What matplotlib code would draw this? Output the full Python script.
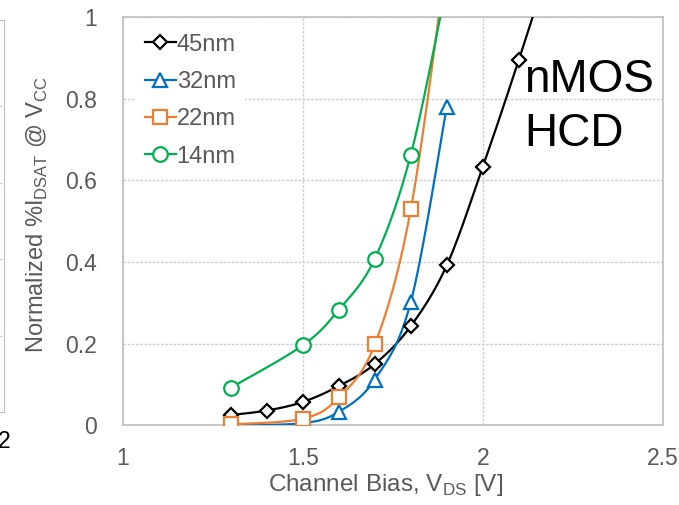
import numpy as np
import matplotlib
matplotlib.use("Agg")
from matplotlib import pyplot as plt

plt.rcParams['font.family'] = ['Liberation Sans', 'DejaVu Sans']

# channel bias sweep [V] and normalized IDSAT degradation per node
vds_45 = [1.3, 1.4, 1.5, 1.6, 1.7, 1.8, 1.9, 2.0, 2.1, 2.2]
idsat_45 = [0.025, 0.036, 0.057, 0.096, 0.150, 0.243, 0.392, 0.633, 0.895, 1.17]

vds_32 = [1.3, 1.5, 1.6, 1.7, 1.8, 1.9]
idsat_32 = [0.0, 0.005, 0.033, 0.112, 0.302, 0.780]

vds_22 = [1.3, 1.5, 1.6, 1.7, 1.8, 1.9]
idsat_22 = [0.002, 0.016, 0.068, 0.198, 0.529, 1.15]

vds_14 = [1.3, 1.5, 1.6, 1.7, 1.8, 1.9]
idsat_14 = [0.092, 0.196, 0.283, 0.408, 0.663, 1.08]

labels = ['45nm', '32nm', '22nm', '14nm']
colors = ['black', '#0070C0', '#ED7D31', '#00B050']
markers = ['D', '^', 's', 'o']
msizes = [7.6, 9.5, 9.5, 10.5]

x_ticks = [1, 1.5, 2, 2.5]
y_ticks = [0, 0.2, 0.4, 0.6, 0.8, 1]
tick_grey = '#595959'


def smooth(x, y, n=24):
    # excel-style smoothed line (catmull-rom as cubic bezier)
    p = np.column_stack([x, y]).astype(float)
    out = [p[0]]
    t = np.linspace(0, 1, n)[1:, None]
    for i in range(len(p) - 1):
        p0 = p[i - 1] if i > 0 else p[i]
        p3 = p[i + 2] if i + 2 < len(p) else p[i + 1]
        b0, b3 = p[i], p[i + 1]
        b1 = b0 + (b3 - p0) / 6
        b2 = b3 - (p3 - b0) / 6
        seg = ((1 - t) ** 3 * b0 + 3 * (1 - t) ** 2 * t * b1
               + 3 * (1 - t) * t ** 2 * b2 + t ** 3 * b3)
        out.extend(seg)
    out = np.array(out)
    return out[:, 0], out[:, 1]


fig = plt.figure(figsize=(6.79, 5.05), dpi=100)

# edge of the neighbouring panel
ax0 = fig.add_axes([-0.5, 0.184, 0.5059, 0.776])
ax0.set_xlim(0, 2)
ax0.set_ylim(0, 1)
ax0.set_xticks([2])
ax0.set_xticklabels(['2'])
ax0.set_yticks(np.arange(1, 5) * 0.195)
ax0.set_yticklabels([])
ax0.tick_params(length=0, labelsize=16.5, pad=13, colors='black')
ax0.grid(axis='y', color='#d0d0d0', linestyle=(0, (2, 1)), linewidth=1)
for s in ax0.spines.values():
    s.set_color('#bfbfbf')

ax = fig.add_axes([0.181, 0.158, 0.795, 0.808])

series = [(vds_45, idsat_45), (vds_32, idsat_32), (vds_22, idsat_22), (vds_14, idsat_14)]
for (xs, ys), lab, c, m, ms in zip(series, labels, colors, markers, msizes):
    sx, sy = smooth(xs, ys)
    ax.plot(sx, sy, '-', color=c, lw=1.6, zorder=3)
    ax.plot(xs, ys, linestyle='none', marker=m, ms=ms, mfc='white',
            mec=c, mew=1.6, zorder=4)
    # legend proxy
    ax.plot([], [], '-', color=c, lw=1.6, marker=m, ms=ms, mfc='white',
            mec=c, mew=1.6, label=lab)

ax.set_xlim(1, 2.5)
ax.set_ylim(0, 1)
ax.set_xticks(x_ticks)
ax.set_xticklabels(['1', '1.5', '2', '2.5'])
ax.set_yticks(y_ticks)
ax.set_yticklabels(['0', '0.2', '0.4', '0.6', '0.8', '1'])
ax.tick_params(length=0, labelsize=16.5, colors=tick_grey)
ax.tick_params(axis='y', pad=19)
ax.tick_params(axis='x', pad=16)
ax.grid(True, color='#d0d0d0', linestyle=(0, (2, 1)), linewidth=1)
ax.set_axisbelow(True)
for s in ax.spines.values():
    s.set_color('#bfbfbf')
    s.set_linewidth(1.2)

ax.set_xlabel(r'Channel Bias, V$_\mathregular{DS}$ [V]', fontsize=17.5, color=tick_grey)
ax.xaxis.set_label_coords(0.486, -0.115)
ax.set_ylabel(r'Normalized %I$_\mathregular{DSAT}$ @ V$_\mathregular{CC}$', fontsize=17, color=tick_grey)
ax.yaxis.set_label_coords(-0.135, 0.516)

leg = ax.legend(loc='upper left', bbox_to_anchor=(0.010, 1.0), fontsize=17,
                handlelength=1.3, handletextpad=0.05, labelspacing=0.65,
                borderaxespad=0.3, frameon=True, fancybox=False)
leg.get_frame().set_facecolor('white')
leg.get_frame().set_edgecolor('none')
leg.get_frame().set_alpha(1)
for t in leg.get_texts():
    t.set_color(tick_grey)

ax.text(0.743, 0.90, 'nMOS\nHCD', transform=ax.transAxes, fontsize=33,
        color='black', va='top', ha='left', linespacing=1.3)

fig.savefig('out.png', dpi=100)
